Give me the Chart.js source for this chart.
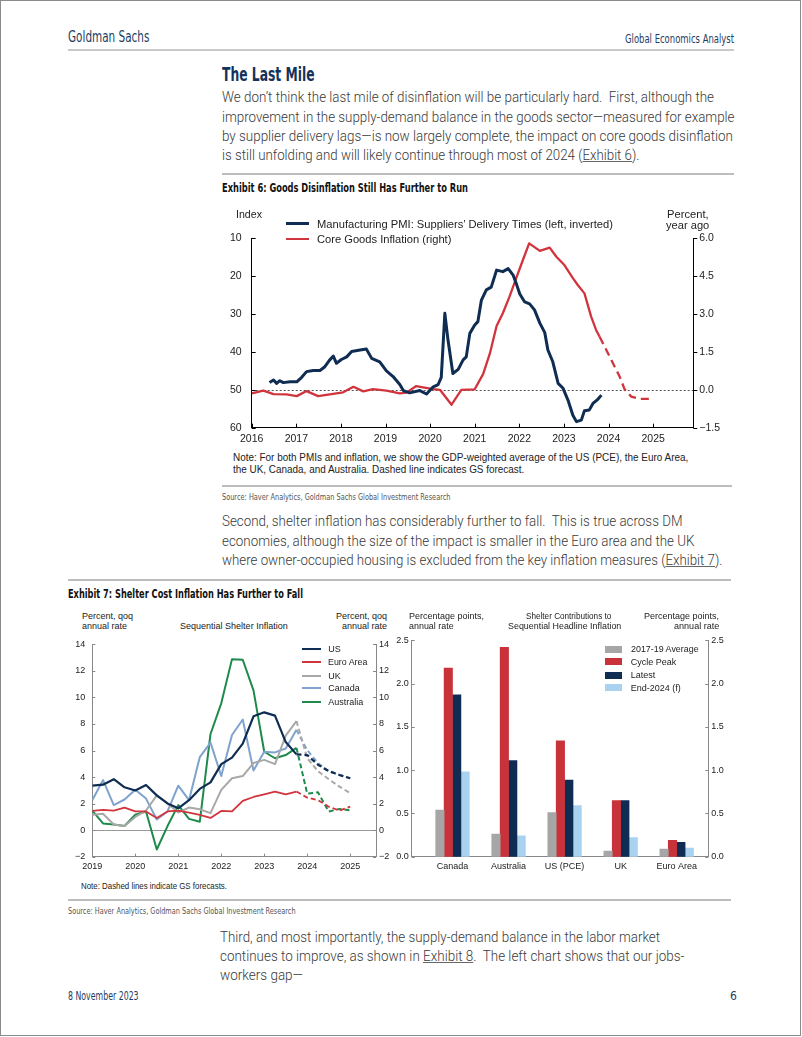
<!DOCTYPE html>
<html>
<head>
<meta charset="utf-8">
<script src="https://cdn.jsdelivr.net/npm/chart.js@4.4.0/dist/chart.umd.min.js"></script>
<style>
body{margin:0;width:802px;height:1037px;position:relative;overflow:hidden;background:#fff}
.page{position:absolute;left:0;top:0;width:801px;height:1036px;box-sizing:border-box;border:1px solid #8a8a8a}
.t{position:absolute;white-space:nowrap;line-height:1;transform-origin:0 50%}
.rule{position:absolute;height:1.5px;background:#bdbdbd}
.hd{font:15px 'Liberation Sans Narrow','DejaVu Sans Condensed',Roboto,sans-serif;color:#1f3d63}
.ha{font:12px 'Liberation Sans Narrow','DejaVu Sans Condensed',Roboto,sans-serif;color:#1f3d63}
.h2{font:bold 19px 'Liberation Sans Narrow','DejaVu Sans Condensed',Roboto,sans-serif;color:#15325a}
.p{font:300 15px Roboto,'Liberation Sans',sans-serif;color:#3a3a3a}
.p u{text-decoration-color:#666}
.ex{font:bold 12.5px 'Liberation Sans Narrow','DejaVu Sans Condensed',Roboto,sans-serif;color:#111}
.src{font:9px 'Liberation Sans Narrow','DejaVu Sans Condensed',Roboto,sans-serif;color:#555}
.ft{font:12px 'Liberation Sans Narrow','DejaVu Sans Condensed',Roboto,sans-serif;color:#1f3d63}
.nt{font:10.5px 'Liberation Sans',Arial,sans-serif;color:#222}
.cl{font:10.5px 'Liberation Sans',Arial,sans-serif;color:#222}
.cl7{font:9px 'Liberation Sans',Arial,sans-serif;color:#222}
.ln{position:absolute}
canvas{position:absolute}
</style>
</head>
<body>
<div class="page"></div>
<canvas id="c6" width="513" height="250" style="left:222px;top:200px"></canvas>
<canvas id="c7a" width="329" height="240" style="left:66px;top:632px"></canvas>
<canvas id="c7b" width="355" height="240" style="left:380px;top:632px"></canvas>
<div id="txt"></div>
<script>
// ---- Exhibit 6 data ----
const pmiDates = [2016.40,2016.49,2016.56,2016.63,2016.71,2016.86,2017.01,2017.12,2017.23,2017.38,2017.53,2017.64,2017.75,2017.83,2017.90,2018.01,2018.13,2018.24,2018.43,2018.57,2018.69,2018.87,2019.02,2019.17,2019.32,2019.40,2019.54,2019.77,2019.92,2020.07,2020.18,2020.25,2020.33,2020.40,2020.51,2020.63,2020.74,2020.81,2020.89,2021.00,2021.07,2021.15,2021.26,2021.37,2021.49,2021.63,2021.75,2021.86,2021.93,2022.01,2022.12,2022.23,2022.34,2022.46,2022.57,2022.64,2022.75,2022.87,2022.98,2023.09,2023.20,2023.28,2023.39,2023.46,2023.57,2023.65,2023.76,2023.84];
const pmiValues = [48.1,47.4,48.3,47.6,48.1,47.9,47.9,46.7,45.2,44.9,44.9,43.9,42.1,41.1,43.0,42.0,41.3,39.9,39.5,39.2,41.7,42.6,45.0,46.5,48.6,50.2,50.8,50.2,51.1,49.2,48.6,46.7,29.8,36.8,45.7,44.6,42.1,41.3,35.1,32.9,32.0,26.3,23.6,22.9,18.4,18.8,18.0,19.7,21.9,24.7,26.8,27.3,28.9,32.4,34.9,39.5,42.6,48.3,49.6,52.7,56.7,58.4,58.0,55.5,55.3,53.6,52.5,51.4];
const coreDates = [2016.00,2016.26,2016.49,2016.78,2017.01,2017.23,2017.49,2017.75,2018.05,2018.28,2018.50,2018.72,2019.02,2019.32,2019.47,2019.69,2019.84,2020.07,2020.22,2020.48,2020.70,2021.00,2021.19,2021.34,2021.49,2021.63,2021.78,2021.93,2022.08,2022.22,2022.46,2022.68,2022.83,2023.01,2023.20,2023.31,2023.46,2023.61,2023.72,2023.80,2023.95,2024.10,2024.25,2024.36,2024.51,2024.69,2024.96];
const coreValues = [-0.14,-0.03,-0.17,-0.18,-0.25,-0.05,-0.25,-0.18,-0.10,0.12,-0.06,0.03,-0.03,-0.14,-0.11,0.15,0.10,0.03,0.00,-0.59,0.00,0.02,0.63,1.44,2.53,3.03,3.69,4.42,5.14,5.80,5.50,5.63,5.27,4.94,4.42,4.15,3.82,2.90,2.37,2.10,1.58,1.05,0.52,0.02,-0.27,-0.36,-0.36];
const coreForecastFrom = 2023.80;

// ---- Exhibit 7 left: sequential shelter inflation (quarterly) ----
const quarters = [2019,2019.25,2019.5,2019.75,2020,2020.25,2020.5,2020.75,2021,2021.25,2021.5,2021.75,2022,2022.25,2022.5,2022.75,2023,2023.25,2023.5,2023.75,2024,2024.25,2024.5,2024.75,2025];
const usShelter = [3.35,3.43,3.84,3.23,2.99,3.40,2.62,2.01,1.65,2.26,3.11,3.60,4.98,5.47,6.52,8.58,8.88,8.63,6.64,5.71,5.66,4.93,4.45,4.16,3.91];
const euroShelter = [1.45,1.53,1.48,1.70,1.41,1.41,0.92,1.41,1.48,1.33,1.16,0.92,1.45,1.41,2.21,2.50,2.70,2.91,2.70,2.91,2.45,2.26,1.77,1.48,1.77];
const ukShelter = [1.16,1.24,0.43,0.31,1.00,1.48,2.62,2.01,1.33,1.70,1.58,1.28,3.04,3.91,4.08,5.06,5.30,4.98,7.12,8.22,5.42,4.45,3.84,3.28,2.79];
const canadaShelter = [2.26,3.77,1.89,2.31,3.04,2.38,0.80,1.41,3.35,2.26,5.50,6.60,4.08,7.17,8.34,4.50,5.91,5.86,6.15,7.56,6.03,5.06,4.45,4.16,3.91];
const australiaShelter = [1.48,0.51,0.43,0.31,1.16,1.41,-1.46,0.31,1.89,0.85,0.63,7.25,9.56,12.89,12.84,10.53,5.91,5.42,5.66,6.20,2.75,2.85,1.40,1.60,1.50];
const forecastIndex = 19;

// ---- Exhibit 7 right: shelter contributions ----
const countries = ['Canada','Australia','US (PCE)','UK','Euro Area'];
const avg1719 = [0.54,0.26,0.51,0.065,0.087];
const cyclePeak = [2.18,2.42,1.34,0.65,0.19];
const latest = [1.87,1.11,0.885,0.65,0.167];
const end2024 = [0.98,0.24,0.59,0.22,0.10];

const navy = '#0f2d52', red = '#d1343c';

// page text: [html, left, centre y, width, class]
const texts = [
  ['Goldman Sachs',68,36,81.4,'hd'],
  ['Global Economics Analyst',625,38.7,109,'ha'],
  ['The Last Mile',221.5,73.3,92.5,'h2'],
  ['We don’t think the last mile of disinflation will be particularly hard.&nbsp; First, although the',221.5,96.7,492,'p'],
  ['improvement in the supply-demand balance in the goods sector—measured for example',221.5,116,512.5,'p'],
  ['by supplier delivery lags—is now largely complete, the impact on core goods disinflation',221.5,135,511,'p'],
  ['is still unfolding and will likely continue through most of 2024 (<u>Exhibit 6</u>).',221.5,154.3,417.5,'p'],
  ['Exhibit 6: Goods Disinflation Still Has Further to Run',221.5,187.3,246,'ex'],
  ['Index',235.7,213.3,26,'cl'],
  ['Percent,',666.7,213.3,41.6,'cl'],
  ['year ago',665.7,225,43.3,'cl'],
  ['Manufacturing PMI: Suppliers’ Delivery Times (left, inverted)',317.3,223.3,296,'cl'],
  ['Core Goods Inflation (right)',317.3,239,134.4,'cl'],
  ['Note: For both PMIs and inflation, we show the GDP-weighted average of the US (PCE), the Euro Area,',232.7,457,455.3,'nt'],
  ['the UK, Canada, and Australia. Dashed line indicates GS forecast.',232.7,469,291.3,'nt'],
  ['Source: Haver Analytics, Goldman Sachs Global Investment Research',221.5,496.7,228.5,'src'],
  ['Second, shelter inflation has considerably further to fall.&nbsp; This is true across DM',221.5,520,460.5,'p'],
  ['economies, although the size of the impact is smaller in the Euro area and the UK',221.5,540,472.5,'p'],
  ['where owner-occupied housing is excluded from the key inflation measures (<u>Exhibit 7</u>).',221.5,559,500.5,'p'],
  ['Exhibit 7: Shelter Cost Inflation Has Further to Fall',68,593.3,235,'ex'],
  ['Percent, qoq',81.7,616,51,'cl7'],
  ['annual rate',81.7,625.7,45,'cl7'],
  ['Sequential Shelter Inflation',180,625.7,107.7,'cl7'],
  ['Percent, qoq',336,616,51,'cl7'],
  ['annual rate',342,625.7,45,'cl7'],
  ['US',328.3,649,0,'cl7'],
  ['Euro Area',328.3,662.3,39.4,'cl7'],
  ['UK',328.3,675.7,0,'cl7'],
  ['Canada',328.3,688.3,0,'cl7'],
  ['Australia',328.3,701.7,0,'cl7'],
  ['Percentage points,',409.3,616,75,'cl7'],
  ['annual rate',409.3,625.7,44.7,'cl7'],
  ['Shelter Contributions to',525.7,616,85.3,'cl7'],
  ['Sequential Headline Inflation',507.7,625.7,113.3,'cl7'],
  ['Percentage points,',644.3,616,75,'cl7'],
  ['annual rate',674,625.7,45.3,'cl7'],
  ['2017-19 Average',630.7,649,67.6,'cl7'],
  ['Cycle Peak',630.7,661.7,0,'cl7'],
  ['Latest',630.7,675,0,'cl7'],
  ['End-2024 (f)',630.7,687.7,0,'cl7'],
  ['Note: Dashed lines indicate GS forecasts.',80.7,886,146,'cl7'],
  ['Source: Haver Analytics, Goldman Sachs Global Investment Research',68,911,227.6,'src'],
  ['Third, and most importantly, the supply-demand balance in the labor market',220,936.7,440,'p'],
  ['continues to improve, as shown in <u>Exhibit 8</u>.&nbsp; The left chart shows that our jobs-',220,955,464.4,'p'],
  ['workers gap—',220,974.3,83,'p'],
  ['8 November 2023',68,995.7,70.6,'ft'],
  ['6',730,995.7,0,'ft']
];
const rules = [[68,734,50,2],[221.5,734,174,1.5],[221.5,732,486,1.5],[68,731,580,1.5],[68,731,900,1.5]];
// legend swatches: [left, right, centre y, thickness, colour]
const swatches = [
  [285.7,309.3,223.3,3,navy],[285.7,309.3,239,2.5,red],
  [302.3,321,649,2,navy],[302.3,321,662.3,2,red],[302.3,321,675.7,2,'#a8a8a8'],[302.3,321,688.3,2,'#7fa3cc'],[302.3,321,701.7,2,'#1e8a4c'],
  [605,621.7,649,7,'#a6a6a6'],[605,621.7,661.7,7,'#c8323a'],[605,621.7,675,7,navy],[605,621.7,687.7,7,'#a9d1f0']
];

const box = document.getElementById('txt');
texts.forEach(([html, x, cy, w, cls]) => {
  const d = document.createElement('div');
  d.className = 't ' + cls;
  d.innerHTML = html;
  box.appendChild(d);
  const fs = parseFloat(getComputedStyle(d).fontSize);
  d.style.left = x + 'px';
  d.style.top = (cy - fs * 0.55) + 'px';
  if (w) d.style.transform = 'scaleX(' + (w / d.getBoundingClientRect().width) + ')';
});
rules.forEach(([a, b, y, h]) => {
  const d = document.createElement('div');
  d.className = 'rule';
  d.style.cssText = `left:${a}px;width:${b - a}px;top:${y - h / 2}px;height:${h}px;background:${h > 1.5 ? '#c9c9c9' : '#bdbdbd'}`;
  box.appendChild(d);
});
swatches.forEach(([a, b, y, h, c]) => {
  const d = document.createElement('div');
  d.className = 'ln';
  d.style.cssText = `left:${a}px;width:${b - a}px;top:${y - h / 2}px;height:${h}px;background:${c}`;
  box.appendChild(d);
});

// ---- chart helpers ----
Chart.defaults.font.family = "'Liberation Sans', Arial, sans-serif";
Chart.defaults.color = '#222';

const axisTicks = {
  id: 'axisTicks',
  afterDatasetsDraw(chart, args, opts) {
    const ctx = chart.ctx;
    ctx.save();
    ctx.strokeStyle = opts.color || '#000';
    ctx.lineWidth = 1;
    Object.entries(opts.axes || {}).forEach(([id, len]) => {
      const s = chart.scales[id];
      s.ticks.forEach(t => {
        const p = Math.round(s.getPixelForValue(t.value)) + 0.5;
        ctx.beginPath();
        if (s.isHorizontal()) { ctx.moveTo(p, s.top); ctx.lineTo(p, s.top - len); }
        else if (s.position === 'left') { ctx.moveTo(s.right, p); ctx.lineTo(s.right + len, p); }
        else { ctx.moveTo(s.left, p); ctx.lineTo(s.left - len, p); }
        ctx.stroke();
      });
    });
    ctx.restore();
  }
};
const zeroLine = {
  id: 'zeroLine',
  beforeDatasetsDraw(chart, args, opts) {
    if (!opts.scale) return;
    const ctx = chart.ctx, a = chart.chartArea;
    const y = Math.round(chart.scales[opts.scale].getPixelForValue(0)) + 0.5;
    ctx.save();
    ctx.strokeStyle = opts.color;
    ctx.lineWidth = 1;
    ctx.setLineDash(opts.dash || []);
    ctx.beginPath(); ctx.moveTo(a.left, y); ctx.lineTo(a.right, y); ctx.stroke();
    ctx.restore();
  }
};
const pts = (xs, ys) => xs.map((x, i) => ({x: x, y: ys[i]}));
const minus = s => String(s).replace('-', '\u2212');
const base = {
  responsive: false, animation: false, devicePixelRatio: 1,
  elements: { point: { radius: 0 }, line: { tension: 0, borderJoinStyle: 'round' } },
};

// ---- Exhibit 6 ----
new Chart(document.getElementById('c6'), {
  type: 'line',
  data: {
    datasets: [
      { label: 'Manufacturing PMI: Suppliers’ Delivery Times (left, inverted)', data: pts(pmiDates, pmiValues), yAxisID: 'y', borderColor: navy, borderWidth: 3 },
      { label: 'Core Goods Inflation (right)', data: pts(coreDates, coreValues), yAxisID: 'y2', borderColor: red, borderWidth: 2.3,
        segment: { borderDash: c => c.p0.parsed.x >= coreForecastFrom - 1e-6 ? [8, 5] : undefined } }
    ]
  },
  options: {
    ...base,
    layout: { padding: { top: 38.3 } },
    plugins: {
      legend: { display: false }, tooltip: { enabled: false },
      axisTicks: { color: '#000', axes: { x: 4, y: 4, y2: -4 } },
      zeroLine: { scale: 'y2', color: '#555', dash: [2, 2] }
    },
    scales: {
      x: { type: 'linear', min: 2016, max: 2025.9, grid: { display: false, drawTicks: false }, border: { color: '#000' },
        ticks: { stepSize: 1, includeBounds: false, padding: 5, font: { size: 10.5 }, callback: v => String(v) },
        afterFit: s => { s.height = 22.3; } },
      y: { position: 'left', reverse: true, min: 10, max: 60, grid: { display: false, drawTicks: false }, border: { color: '#000' },
        ticks: { stepSize: 10, padding: 10, font: { size: 10.5 } }, afterFit: s => { s.width = 29.7; } },
      y2: { position: 'right', min: -1.5, max: 6, grid: { display: false, drawTicks: false }, border: { color: '#000' },
        ticks: { stepSize: 1.5, padding: 6, font: { size: 10.5 }, callback: v => minus(v.toFixed(1)) }, afterFit: s => { s.width = 41.7; } }
    }
  },
  plugins: [axisTicks, zeroLine]
});

// ---- Exhibit 7 left ----
const dashAfter = { borderDash: c => c.p0DataIndex >= forecastIndex ? [5, 3] : undefined };
new Chart(document.getElementById('c7a'), {
  type: 'line',
  data: {
    datasets: [
      { label: 'US', data: pts(quarters, usShelter), borderColor: navy, borderWidth: 2.2, segment: dashAfter },
      { label: 'Euro Area', data: pts(quarters, euroShelter), borderColor: red, borderWidth: 1.8, segment: dashAfter },
      { label: 'UK', data: pts(quarters, ukShelter), borderColor: '#a8a8a8', borderWidth: 2, segment: dashAfter },
      { label: 'Canada', data: pts(quarters, canadaShelter), borderColor: '#7fa3cc', borderWidth: 2, segment: dashAfter },
      { label: 'Australia', data: pts(quarters, australiaShelter), borderColor: '#1e8a4c', borderWidth: 2, segment: dashAfter }
    ]
  },
  options: {
    ...base,
    layout: { padding: { top: 5.3 } },
    plugins: {
      legend: { display: false }, tooltip: { enabled: false },
      axisTicks: { color: '#888', axes: { x: 3, y: 3, y2: 3 } },
      zeroLine: { scale: 'y', color: '#999' }
    },
    scales: {
      x: { type: 'linear', min: 2019, max: 2025.6, grid: { display: false, drawTicks: false }, border: { color: '#888' },
        ticks: { stepSize: 1, includeBounds: false, padding: 4, font: { size: 9 }, callback: v => String(v) },
        afterFit: s => { s.height = 15.3; } },
      y: { position: 'left', min: -2, max: 14, grid: { display: false, drawTicks: false }, border: { color: '#888' },
        ticks: { stepSize: 2, padding: 7, font: { size: 9 }, callback: v => minus(v) }, afterFit: s => { s.width = 26.3; } },
      y2: { position: 'right', min: -2, max: 14, grid: { display: false, drawTicks: false }, border: { color: '#888' },
        ticks: { stepSize: 2, padding: 3, font: { size: 9 }, callback: v => minus(v) }, afterFit: s => { s.width = 19; } }
    }
  },
  plugins: [axisTicks, zeroLine]
});

// ---- Exhibit 7 right ----
const catIdx = countries.map((c, i) => i);
new Chart(document.getElementById('c7b'), {
  type: 'bar',
  data: {
    datasets: [
      { label: '2017-19 Average', data: pts(catIdx, avg1719), backgroundColor: '#a6a6a6' },
      { label: 'Cycle Peak', data: pts(catIdx, cyclePeak), backgroundColor: '#c8323a' },
      { label: 'Latest', data: pts(catIdx, latest), backgroundColor: navy },
      { label: 'End-2024 (f)', data: pts(catIdx, end2024), backgroundColor: '#a9d1f0' }
    ]
  },
  options: {
    ...base,
    datasets: { bar: { barThickness: 8.4 } },
    layout: { padding: { top: 5.3 } },
    plugins: {
      legend: { display: false }, tooltip: { enabled: false },
      axisTicks: { color: '#888', axes: { y: 3, y2: 3 } }
    },
    scales: {
      x: { type: 'linear', offset: false, min: -0.728, max: 4.564, grid: { display: false, drawTicks: false, offset: false }, border: { color: '#888' },
        ticks: { stepSize: 1, includeBounds: false, padding: 4, font: { size: 9 }, callback: v => countries[v] },
        afterFit: s => { s.height = 15.3; } },
      y: { position: 'left', min: 0, max: 2.5, grid: { display: false, drawTicks: false }, border: { color: '#888' },
        ticks: { stepSize: 0.5, padding: 3, font: { size: 9 }, callback: v => v.toFixed(1) }, afterFit: s => { s.width = 31.7; } },
      y2: { position: 'right', min: 0, max: 2.5, grid: { display: false, drawTicks: false }, border: { color: '#888' },
        ticks: { stepSize: 0.5, padding: 3, font: { size: 9 }, callback: v => v.toFixed(1) }, afterFit: s => { s.width = 26.7; } }
    }
  },
  plugins: [axisTicks]
});
</script>
</body>
</html>
